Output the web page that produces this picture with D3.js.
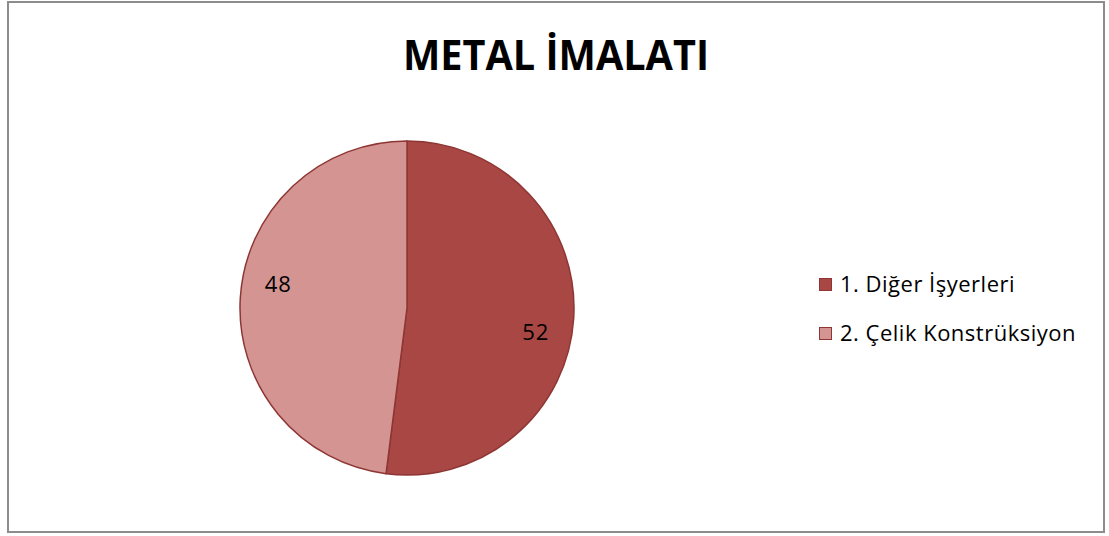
<!DOCTYPE html>
<html>
<head>
<meta charset="utf-8">
<script src="https://cdn.jsdelivr.net/npm/d3@7"></script>
<style>
  body { margin: 0; background: #fff; }
  svg { display: block; }
</style>
</head>
<body>
<div id="chart"></div>
<script>
// chart data
const title = 'METAL İMALATI';
const categories = ['1. Diğer İşyerleri', '2. Çelik Konstrüksiyon'];
const values = [52, 48];
const colors = ['#a94745', '#d49492'];

const width = 1109, height = 536;
const font = "'Open Sans', 'Noto Sans', sans-serif";

const svg = d3.select('#chart').append('svg')
  .attr('width', width)
  .attr('height', height);

// outer chart border
svg.append('rect')
  .attr('x', 8).attr('y', 2)
  .attr('width', 1096).attr('height', 530)
  .attr('fill', '#fff')
  .attr('stroke', '#8c8c8c')
  .attr('stroke-width', 2);

svg.append('text')
  .attr('x', 556).attr('y', 70)
  .attr('text-anchor', 'middle')
  .attr('font-family', font)
  .attr('font-weight', 'bold')
  .attr('font-size', 42)
  .attr('textLength', 306)
  .attr('lengthAdjust', 'spacingAndGlyphs')
  .attr('fill', '#000')
  .text(title);

const cx = 407, cy = 308, radius = 167;

const data = categories.map((c, i) => ({ label: c, value: values[i], color: colors[i] }));

// slices go clockwise from 12 o'clock, in data order
const pie = d3.pie().sort(null).value(d => d.value);
const arc = d3.arc().innerRadius(0).outerRadius(radius);

const g = svg.append('g').attr('transform', `translate(${cx},${cy})`);

const slices = pie(data);

g.selectAll('path')
  .data(slices)
  .join('path')
  .attr('d', arc)
  .attr('fill', d => d.data.color)
  .attr('stroke', '#8e3634')
  .attr('stroke-width', 1.5)
  .attr('stroke-linejoin', 'round');

// data labels, nudged a little clockwise like the original
const labelR = 131, nudge = 7 * Math.PI / 180;
g.selectAll('text.val')
  .data(slices)
  .join('text')
  .attr('class', 'val')
  .attr('x', d => labelR * Math.sin((d.startAngle + d.endAngle) / 2 + nudge))
  .attr('y', d => -labelR * Math.cos((d.startAngle + d.endAngle) / 2 + nudge))
  .attr('dy', '0.35em')
  .attr('text-anchor', 'middle')
  .attr('font-family', font)
  .attr('font-size', 22)
  .attr('letter-spacing', 1)
  .attr('fill', '#000')
  .text(d => d.data.value);

// legend
const legend = svg.append('g').attr('transform', 'translate(819,278)');
const item = legend.selectAll('g')
  .data(data)
  .join('g')
  .attr('transform', (d, i) => `translate(0,${i * 49})`);

item.append('rect')
  .attr('x', 0.5).attr('y', 0.5)
  .attr('width', 12).attr('height', 12)
  .attr('fill', d => d.color)
  .attr('stroke', '#8e3634')
  .attr('stroke-width', 1);

item.append('text')
  .attr('x', 21).attr('y', 6.5)
  .attr('dy', '0.35em')
  .attr('font-family', font)
  .attr('font-size', 22)
  .attr('letter-spacing', 0.5)
  .attr('fill', '#000')
  .text(d => d.label);
</script>
</body>
</html>
